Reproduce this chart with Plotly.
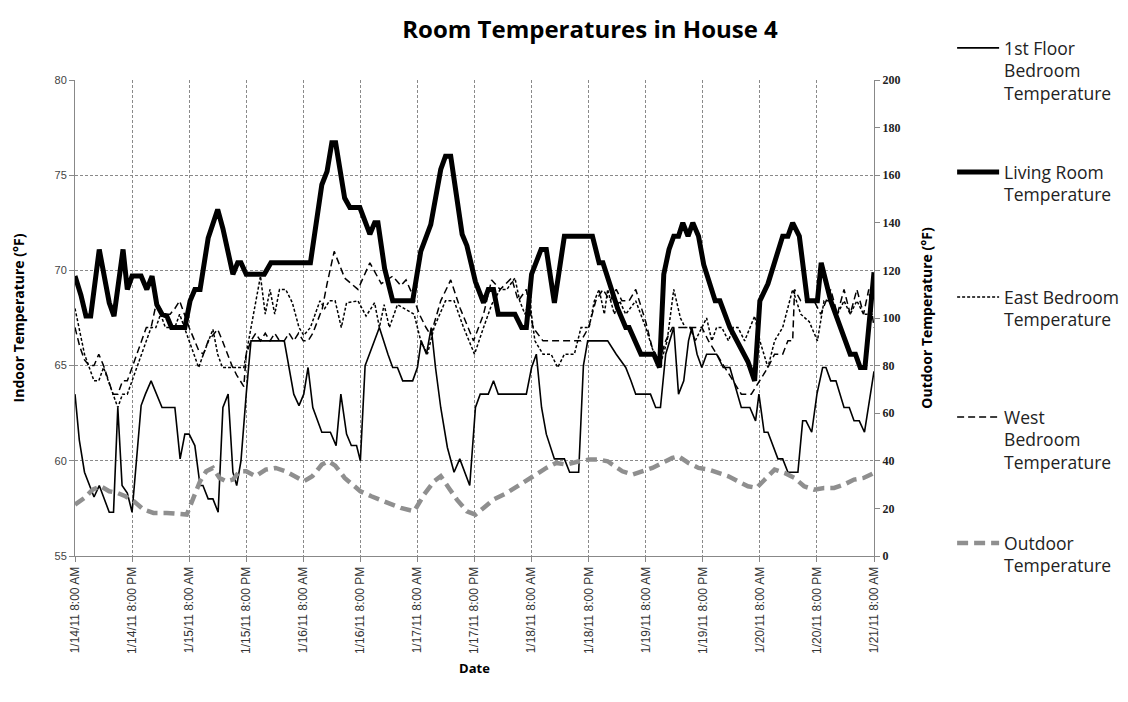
import pandas as pd
import plotly.graph_objects as go

START = pd.Timestamp("2011-01-14 08:00")
END = pd.Timestamp("2011-01-21 08:00")

# ---- data (hours after 1/14/11 8:00 AM, temperature °F) ----
first_floor_hours = [0,0.9,2,3,4,5.1,6.1,7.2,8.1,9,9.9,11,12,13.1,13.9,14.8,16,18.3,21,22.1,23.1,24,25.2,26.3,26.9,28,29,30.1,31.1,32.2,33.2,34,34.9,36,37,44,45,46,47.1,48.1,49,50,51.9,53.7,54.9,55.9,57.1,58.1,59.2,60,61,64,65.8,66.8,67.8,68.9,71,72,72.8,73.9,74.9,75.8,76.9,78.3,79.7,80.9,83,84.2,85.2,86.9,88,89,94.9,96,97,98.1,99.1,100.8,102.9,104,105.9,106.9,107.8,112,113.8,115.8,116.9,117.9,121,122.1,123.1,124.2,125.9,126.9,128,129,129.7,130.8,131.8,132.8,134.9,136.3,137.7,139.4,140.1,141.9,143.1,143.8,144.9,145.7,147.8,148.8,149.9,152,153,153.7,154.9,156,157.2,157.9,158.9,160,161.7,162.8,163.8,164.9,166,168]
first_floor_temp = [63.5,61.1,59.4,58.8,58.1,58.7,58.0,57.3,57.3,62.8,58.7,58.3,57.3,60.7,62.9,63.5,64.2,62.8,62.8,60.1,61.4,61.4,60.8,58.7,58.7,58.0,58.0,57.3,62.8,63.5,59.4,58.7,60.0,63.5,66.3,66.3,64.9,63.5,62.9,63.5,64.9,62.8,61.5,61.5,60.8,63.5,61.4,60.8,60.8,60.0,65.0,67.0,65.6,64.9,64.9,64.2,64.2,64.9,66.3,65.6,67.0,64.9,62.8,60.7,59.4,60.1,58.7,62.8,63.5,63.5,64.2,63.5,63.5,64.9,65.6,62.8,61.4,60.1,60.1,59.4,59.4,65.0,66.3,66.3,65.6,64.9,64.2,63.5,63.5,62.8,62.8,65.6,67.0,63.5,64.2,66.3,67.0,65.6,64.9,65.6,65.6,64.9,64.9,63.5,62.8,62.8,62.1,63.5,61.5,61.5,60.1,60.1,59.4,59.4,62.1,62.1,61.5,63.5,64.9,64.9,64.2,64.2,62.8,62.8,62.1,62.1,61.5,64.7]

living_hours = [0,1.25,2.3,3.3,5.1,7.2,8.2,10.1,11,12,13.9,15.1,16.2,17.2,18.3,19.3,20.3,23.1,24.2,25.2,26.3,28,30,31.1,33.2,34.2,34.9,36,39.8,41.2,49.5,51.9,53,54,54.8,55.7,56.7,57.8,59.9,62,63,63.7,65.1,66.8,71,72.7,74.8,76.9,77.9,79,81.4,82.4,84.2,85.9,86.9,88,89,92.5,93.9,94.9,96,98,99.1,100.8,102.9,108.8,110.2,111,112,114.1,115.8,116.5,119,121.7,122.9,123.8,124.9,125.9,126.9,127.8,128.9,129.9,131.1,132.2,134.6,135.6,137.7,140.5,141.5,142.9,144,145.7,148.8,149.9,150.9,152.3,154,156.1,156.9,158.9,161,163,164.1,165.1,166.1,167.2,168]
living_temp = [69.7,68.7,67.6,67.6,71.1,68.3,67.6,71.1,69.0,69.7,69.7,69.0,69.7,68.2,67.7,67.6,67.0,67.0,68.4,69.0,69.0,71.7,73.2,72.2,69.8,70.4,70.4,69.8,69.8,70.4,70.4,74.5,75.2,76.7,76.7,75.2,73.8,73.3,73.3,71.9,72.5,72.5,70.1,68.4,68.4,71.0,72.4,75.3,76.0,76.0,71.9,71.3,69.4,68.3,69.0,69.0,67.7,67.7,67.0,67.0,69.8,71.1,71.1,68.3,71.8,71.8,70.4,70.4,69.6,68.0,67.0,67.0,65.6,65.6,64.9,69.8,71.1,71.8,71.8,72.5,71.8,72.5,71.8,70.3,68.4,68.4,67.0,65.6,65.2,64.2,68.4,69.3,71.8,71.8,72.5,71.8,68.4,68.4,70.4,68.4,67.0,65.6,65.6,64.9,64.9,67.7,69.9]

east_hours = [0,1,2,3,4,5,6,7,8,9,10,11,12,13,14,15,16,17,18,19,20,21,22,23,24,25,26,27,28,29,30,31,32,33,34,35.5,36.5,37.5,39,40,41,42,43,44.3,45.7,47.1,48.1,49.5,50.5,51.5,52.5,53.5,54.7,56,57.1,59.5,61.2,63,64,65,66.1,67.8,71.3,72.7,74.1,75.5,77.9,79.7,81.7,84,85.9,87.6,89.4,90.8,92.5,93.5,94.6,95.6,96.7,98.4,100.1,101.5,102.9,105,106.4,108.1,109.2,110.2,111.3,112,113.4,114.5,115.8,117.9,120,121.4,122.9,124.5,125.9,127.3,128.3,129.3,130.4,131.8,132.8,133.9,134.9,136,137.4,138.4,139.4,140.8,142.9,144,145.7,147.1,148.8,150.9,152.6,154.4,156.1,157.5,158.9,160.3,161.7,163,164.4,165.8,168]
east_temp = [68.0,66.8,65.6,64.9,64.2,64.2,64.9,64.2,63.5,62.8,63.5,63.5,64.2,64.9,65.6,66.3,67.0,67.0,67.7,67.0,67.0,67.0,67.7,67.0,66.3,65.6,64.9,65.6,66.3,66.9,65.6,64.9,64.9,64.9,64.9,64.9,66.3,67.7,69.7,67.7,69.0,67.7,69.0,69.0,68.3,67.0,66.6,67.0,67.7,68.4,68.0,68.4,68.4,67.0,68.3,68.4,67.6,68.3,67.0,68.2,67.0,68.2,67.7,66.3,65.6,67.0,68.4,68.4,67.0,65.6,67.0,68.2,69.0,69.0,69.6,68.4,67.7,68.4,66.3,65.6,65.6,64.9,65.6,65.6,67.0,67.0,68.4,69.0,67.7,69.0,67.7,68.4,67.7,68.4,67.0,65.9,64.9,66.3,69.0,67.5,67.0,67.0,66.3,67.0,67.5,66.3,67.0,67.0,66.3,67.0,67.0,66.3,67.6,66.3,64.9,66.3,67.0,69.0,67.7,67.3,66.3,68.4,68.4,67.7,68.4,67.7,68.4,67.7,67.7]

west_hours = [0,1,2,3,4,5,6,7,8,9,10,11,12,13,14,15,16,17.2,18.5,20,21,22,23,24,26,27,28,30,31,32,33,34,35.5,36,37,38,39,40,41,42,43,44,45,46,47,48,49,50,51,52,53,54.5,56.7,59.5,62,64.4,66.8,68.5,69.6,71,72.4,73.8,74.8,76.9,79,81,83.8,85.9,87.6,89.4,91.8,93.2,94.9,96.3,98.4,104,106.4,108,109.5,111,112.5,113.8,115,116.5,117.9,120,121.4,122.8,124.2,125.6,131.8,133.2,134.9,136.7,138.4,140.1,142.2,144,145.7,147.1,148.8,149.9,150.9,151.3,152.6,155.4,156.8,158.9,160.3,161.7,163,164.4,165.8,166.9,168]
west_temp = [67.0,66.0,65.3,65.0,65.0,65.6,65.0,64.2,63.5,63.5,64.2,64.2,64.9,65.6,66.3,67.0,67.0,68.4,67.7,67.7,68.0,68.4,67.7,67.0,65.8,65.6,66.3,66.9,66.3,65.6,65.0,64.5,63.9,65.6,66.3,66.7,66.3,66.7,66.3,66.7,66.3,66.3,66.7,66.3,66.7,66.3,66.3,66.7,67.3,68.0,69.3,71.0,69.6,69.0,70.4,69.3,69.7,69.2,69.5,68.7,67.7,67.0,66.6,68.4,69.5,68.0,66.3,67.7,69.5,69.0,69.6,68.4,69.0,67.0,66.3,66.3,66.3,67.0,68.4,69.0,68.4,69.0,68.4,68.4,69.0,67.3,65.9,65.2,66.3,67.0,67.0,66.3,65.6,64.9,64.2,63.5,63.5,64.2,64.9,65.6,65.6,66.3,66.3,69.0,68.4,68.4,67.7,69.0,67.7,69.0,67.7,69.0,67.7,69.0,67.0]

outdoor_hours = [0,2,3.7,5.4,7.2,8.9,10.6,12.4,14.4,16.5,19.3,22,23.5,24.9,26.3,27.6,29,30.4,31.8,33.2,34.6,36,38,40.1,42.2,44.3,46.4,48.1,49.9,51.9,53.3,54.7,56.7,60,62.3,65.1,68.5,71.3,73.4,75.5,76.9,78.6,80.3,82.4,84.2,85.9,88,90.8,93.5,96.3,99.1,101.2,103.3,106,108.1,110.2,112,113,115.1,117.2,119.3,121.4,123.5,125.6,126.9,129,131.1,133.2,135.3,137.4,139.4,141.5,143.3,145,147.1,149.2,151.3,153.3,155.4,157.5,159.6,161.7,163.8,165.8,168]
outdoor_temp = [21.6,24.4,27.9,29.3,27.2,26.5,25.1,23.0,19.5,18.1,18.1,17.4,17.4,24.4,31.4,35.6,37.0,32.8,31.4,32.1,35.6,35.6,33.5,36.3,37.0,35.6,33.5,31.4,33.5,38.4,39.8,38.0,32.8,27.2,25.1,23.0,20.2,18.8,25.8,31.4,33.5,28.6,23.7,18.8,17.4,20.2,23.7,26.5,30.0,33.5,37.0,39.1,38.4,39.8,40.5,40.5,39.8,38.4,35.6,34.2,35.6,37.0,39.1,41.2,41.9,39.1,37.0,36.3,34.9,33.5,31.4,29.3,28.6,32.1,36.3,34.9,32.8,29.3,27.9,28.6,28.6,30.0,32.1,32.8,34.9]

series_names = ["1st Floor<br>Bedroom<br>Temperature", "Living Room<br>Temperature",
                "East Bedroom<br>Temperature", "West<br>Bedroom<br>Temperature",
                "Outdoor<br>Temperature"]

y_left_ticks = [55, 60, 65, 70, 75, 80]
y_right_ticks = [0, 20, 40, 60, 80, 100, 120, 140, 160, 180, 200]


def to_time(hours):
    return START + pd.to_timedelta(hours, unit="h")


styles = [
    dict(color="black", width=1.6, dash="solid"),
    dict(color="black", width=5, dash="solid"),
    dict(color="black", width=1.5, dash="3px,2px"),
    dict(color="black", width=1.5, dash="7px,4px"),
    dict(color="#8f8f8f", width=4.5, dash="11px,6px"),
]
data = [(first_floor_hours, first_floor_temp, "y"),
        (living_hours, living_temp, "y"),
        (east_hours, east_temp, "y"),
        (west_hours, west_temp, "y"),
        (outdoor_hours, outdoor_temp, "y2")]
legend_ids = ["legend2", "legend3", "legend4", "legend5", "legend6"]
order = [4, 0, 1, 2, 3]  # draw outdoor first (underneath)

fig = go.Figure()
for i in order:
    h, v, ax = data[i]
    fig.add_trace(go.Scatter(x=to_time(h), y=v, mode="lines", name=series_names[i],
                             yaxis=ax, line=styles[i], legend=legend_ids[i]))

grid = dict(showgrid=True, gridcolor="#8a8a8a", griddash="3px,2px", gridwidth=1)
fig.update_layout(
    width=1128, height=702,
    margin=dict(l=67, r=253, t=72, b=154),
    paper_bgcolor="white", plot_bgcolor="white",
    showlegend=True,
    title=dict(text="<b>Room Temperatures in House 4</b>", x=0.516, xanchor="center",
               y=1 - 22 / 702, yanchor="middle",
               font=dict(family="Open Sans", size=24, color="black")),
    xaxis=dict(type="date", range=[START, END], tick0=START, dtick=12 * 3600 * 1000,
               tickformat="%-m/%-d/%y %-I:%M %p", tickangle=-90,
               tickfont=dict(family="Liberation Sans", size=12, color="#333333"),
               ticks="outside", ticklen=5, tickcolor="#888888",
               showline=True, linecolor="#888888", linewidth=1, **grid,
               title=dict(text="<b>Date</b>", standoff=10,
                          font=dict(family="Open Sans", size=13, color="black"))),
    yaxis=dict(range=[55, 80], tickvals=y_left_ticks, ticks="outside", ticklen=5,
               tickcolor="#888888", showline=True, linecolor="#888888", linewidth=1,
               tickfont=dict(family="Liberation Sans", size=11, color="#444444"),
               **grid, zeroline=False,
               title=dict(text="<b>Indoor Temperature (°F)</b>", standoff=26,
                          font=dict(family="Open Sans", size=14, color="black"))),
    yaxis2=dict(range=[0, 200], tickvals=y_right_ticks, overlaying="y", side="right",
                showgrid=False, zeroline=False, ticks="outside", ticklen=5,
                tickcolor="#888888", showline=True, linecolor="#888888", linewidth=1,
                tickfont=dict(family="Liberation Serif", size=12, color="#222222", weight="bold"),
                title=dict(text="<b>Outdoor Temperature (°F)</b>", standoff=22,
                           font=dict(family="Open Sans", size=14, color="black"))),
)

leg_common = dict(x=(954 - 67) / 808, xanchor="left", yanchor="top", valign="top",
                  bgcolor="rgba(0,0,0,0)", borderwidth=0, itemwidth=42,
                  font=dict(family="Open Sans", size=17.5, color="#222222"))
tops = [22, 146, 271, 391, 517]
for lg, t in zip(legend_ids, tops):
    fig.update_layout({lg: dict(leg_common, y=(548 - t) / 476)})

fig.write_html("out.html")
